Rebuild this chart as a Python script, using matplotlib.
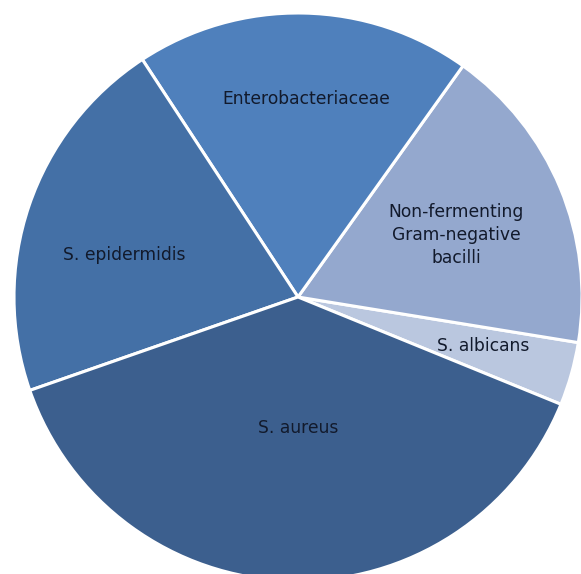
import matplotlib.pyplot as plt

labels = ["S. albicans", "Non-fermenting\nGram-negative\nbacilli", "Enterobacteriaceae", "S. epidermidis", "S. aureus"]
values = [3.6, 17.7, 19.1, 21.1, 38.5]
colors = ["#BAC7DF", "#94A8CE", "#4F80BC", "#4470A6", "#3C5F8E"]

# label positions in pixel coords (y from top)
label_pos = [(483, 346), (456, 235), (306, 99), (124, 255), (298, 428)]

W, H = 581, 574
fig = plt.figure(figsize=(W / 100, H / 100), dpi=100)
ax = fig.add_axes([0, 0, 1, 1])

cx, cy, r = 298, H - 297, 284
ax.pie(values, colors=colors, startangle=-22.2, counterclock=True,
       center=(cx, cy), radius=r,
       wedgeprops=dict(edgecolor="white", linewidth=2.2))

for lab, (x, y) in zip(labels, label_pos):
    ax.text(x, H - y, lab, ha="center", va="center", fontsize=12.3,
            color="#121a2c", linespacing=1.35)

ax.set_xlim(0, W)
ax.set_ylim(0, H)
ax.set_aspect("equal")
ax.axis("off")

fig.savefig("out.png", dpi=100)
